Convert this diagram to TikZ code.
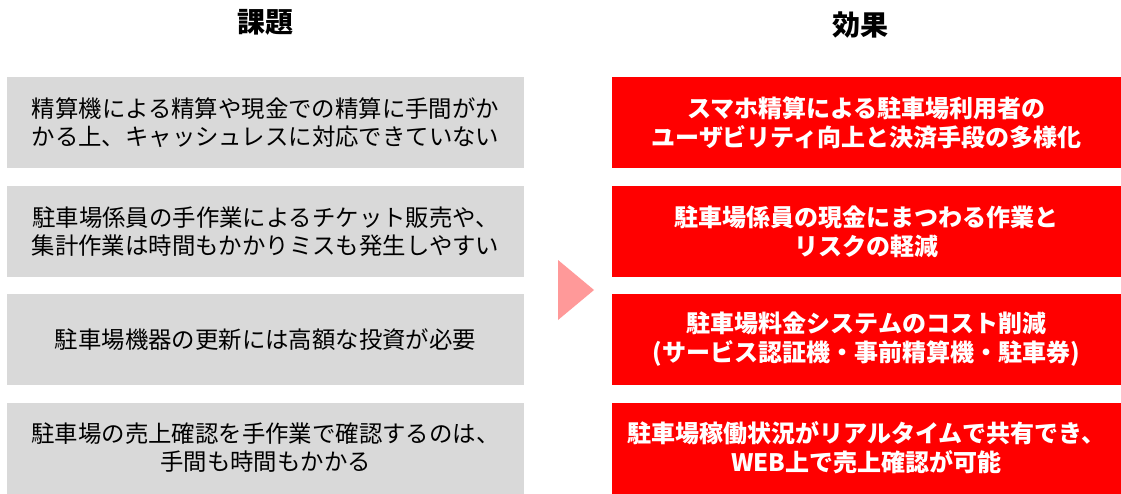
\documentclass[tikz,border=0pt]{standalone}
\usepackage{fontspec}
\setmainfont{Noto Sans CJK JP}
\definecolor{issuegray}{HTML}{D9D9D9}
\definecolor{effred}{HTML}{FF0000}
\definecolor{arrowpink}{HTML}{FF9999}
\begin{document}
\begin{tikzpicture}[x=1pt,y=-1pt,
  header/.style={font=\fontsize{28}{32}\selectfont\bfseries, text=black, inner sep=0pt},
  issue/.style={fill=issuegray, minimum width=517pt, minimum height=91pt, inner sep=0pt,
    align=center, font=\fontsize{23.4}{28}\selectfont, text=black},
  effect/.style={fill=effred, minimum width=509pt, minimum height=91pt, inner sep=0pt,
    align=center, font=\fontsize{24}{29}\selectfont\bfseries, text=white}]
\useasboundingbox (0,0) rectangle (1121,493);

\node[header] (h1) at (265,22) {課題};
\node[header] (h2) at (860,25) {効果};

\node[issue] (i1) at (265.5,122.5) {精算機による精算や現金での精算に手間がか\\かる上、キャッシュレスに対応できていない};
\node[issue] (i2) at (265.5,231.5) {駐車場係員の手作業によるチケット販売や、\\集計作業は時間もかかりミスも発生しやすい};
\node[issue] (i3) at (265.5,339.5) {駐車場機器の更新には高額な投資が必要};
\node[issue] (i4) at (265.5,448) {駐車場の売上確認を手作業で確認するのは、\\手間も時間もかかる};

\node[effect] (e1) at (866.5,122.5) {スマホ精算による駐車場利用者の\\ユーザビリティ向上と決済手段の多様化};
\node[effect] (e2) at (866.5,231.5) {駐車場係員の現金にまつわる作業と\\リスクの軽減};
\node[effect] (e3) at (866.5,339.5) {駐車場料金システムのコスト削減\\(サービス認証機・事前精算機・駐車券)};
\node[effect] (e4) at (866.5,448) {駐車場稼働状況がリアルタイムで共有でき、\\WEB上で売上確認が可能};

\fill[arrowpink] (558,260) -- (594,290) -- (558,320) -- cycle;
\end{tikzpicture}
\end{document}
